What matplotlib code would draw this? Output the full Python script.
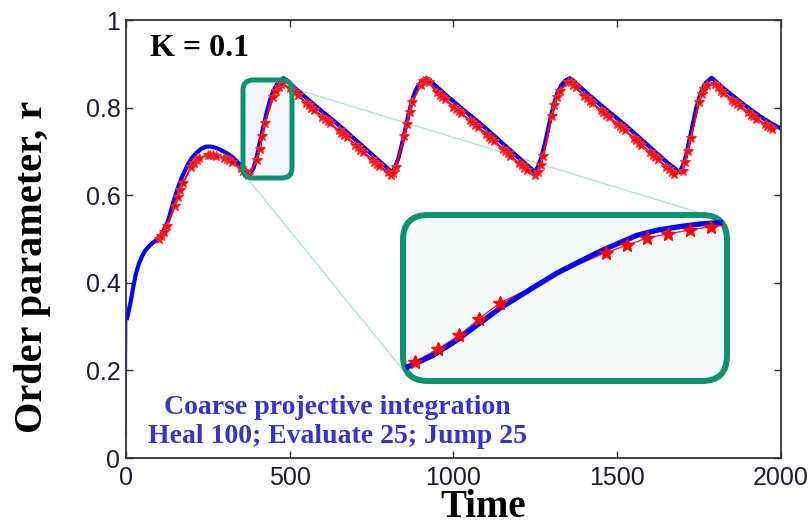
import matplotlib
matplotlib.use('Agg')
import matplotlib.pyplot as plt
from matplotlib.patches import FancyBboxPatch
from matplotlib.lines import Line2D

# ---------------- data ----------------
# initial thin vertical jump at t = 0
start_t = [0, 2]
start_r = [0.05, 0.315]

# blue: full microscopic simulation
blue_t = [2, 8, 15, 22, 30, 40, 50, 60, 75, 90, 100, 110, 120, 130, 140, 150, 160, 170, 180, 190,
          200, 215, 230, 245, 260, 275, 290, 305, 320, 335, 350, 365, 380, 390, 400, 410, 420, 430,
          440, 450, 460, 470, 481,
          491, 511, 541, 571, 601, 631, 661, 691, 721, 751, 781, 801, 812,
          822, 832, 842, 852, 862, 872, 882, 892, 905, 918,
          928, 948, 978, 1008, 1038, 1068, 1098, 1128, 1158, 1188, 1218, 1238, 1248,
          1258, 1268, 1278, 1288, 1298, 1308, 1318, 1330, 1342, 1355,
          1365, 1385, 1415, 1445, 1475, 1505, 1535, 1565, 1595, 1625, 1655, 1678, 1690,
          1700, 1710, 1720, 1730, 1740, 1750, 1760, 1770, 1788,
          1798, 1818, 1848, 1878, 1908, 1938, 1968, 2000]
blue_r = [0.315, 0.335, 0.360, 0.390, 0.420, 0.445, 0.462, 0.475, 0.487, 0.496, 0.503, 0.512, 0.527,
          0.545, 0.572, 0.598, 0.620, 0.640, 0.656, 0.672,
          0.684, 0.697, 0.706, 0.711, 0.711, 0.708, 0.703, 0.697, 0.690, 0.680, 0.668, 0.657, 0.650,
          0.663, 0.690, 0.725, 0.758, 0.790, 0.818, 0.838, 0.852, 0.861, 0.867,
          0.862, 0.848, 0.828, 0.809, 0.790, 0.772, 0.753, 0.733, 0.713, 0.693, 0.673, 0.660, 0.652,
          0.665, 0.685, 0.715, 0.748, 0.782, 0.812, 0.835, 0.850, 0.862, 0.867,
          0.862, 0.848, 0.828, 0.809, 0.790, 0.772, 0.753, 0.733, 0.713, 0.693, 0.673, 0.660, 0.652,
          0.665, 0.685, 0.715, 0.748, 0.782, 0.812, 0.835, 0.852, 0.862, 0.867,
          0.862, 0.848, 0.828, 0.809, 0.790, 0.772, 0.753, 0.733, 0.713, 0.693, 0.673, 0.660, 0.652,
          0.667, 0.690, 0.725, 0.760, 0.795, 0.822, 0.843, 0.856, 0.868,
          0.862, 0.848, 0.830, 0.812, 0.795, 0.779, 0.765, 0.752]

# red: coarse projective integration (evaluate windows)
red_t = [100, 108, 116, 124,
         150, 158, 166, 174,
         200, 208, 216, 224,
         250, 258, 266, 274,
         300, 308, 316, 324,
         350, 358, 366, 374,
         400, 408, 416, 424,
         450, 458, 466, 474,
         500, 508, 516, 524,
         550, 558, 566, 574,
         600, 608, 616, 624,
         650, 658, 666, 674,
         700, 708, 716, 724,
         750, 758, 766, 774,
         800, 808, 816, 824,
         850, 858, 866, 874,
         900, 908, 916, 924,
         950, 958, 966, 974,
         1000, 1008, 1016, 1024,
         1050, 1058, 1066, 1074,
         1100, 1108, 1116, 1124,
         1150, 1158, 1166, 1174,
         1200, 1208, 1216, 1224,
         1250, 1258, 1266, 1274,
         1300, 1308, 1316, 1324,
         1350, 1358, 1366, 1374,
         1400, 1408, 1416, 1424,
         1450, 1458, 1466, 1474,
         1500, 1508, 1516, 1524,
         1550, 1558, 1566, 1574,
         1600, 1608, 1616, 1624,
         1650, 1658, 1666, 1674,
         1700, 1708, 1716, 1724,
         1750, 1758, 1766, 1774,
         1800, 1808, 1816, 1824,
         1850, 1858, 1866, 1874,
         1900, 1908, 1916, 1924,
         1950, 1958, 1966, 1974]
red_r = [0.500, 0.507, 0.517, 0.530,
         0.575, 0.595, 0.612, 0.628,
         0.665, 0.674, 0.681, 0.686,
         0.691, 0.692, 0.691, 0.689,
         0.686, 0.683, 0.680, 0.676,
         0.662, 0.656, 0.650, 0.646,
         0.680, 0.705, 0.735, 0.765,
         0.825, 0.838, 0.848, 0.855,
         0.845, 0.840, 0.835, 0.829,
         0.810, 0.805, 0.800, 0.795,
         0.779, 0.774, 0.769, 0.764,
         0.748, 0.743, 0.738, 0.732,
         0.715, 0.710, 0.704, 0.699,
         0.682, 0.676, 0.671, 0.666,
         0.652, 0.646, 0.650, 0.664,
         0.735, 0.762, 0.790, 0.813,
         0.852, 0.860, 0.862, 0.858,
         0.835, 0.829, 0.824, 0.819,
         0.802, 0.797, 0.792, 0.787,
         0.771, 0.766, 0.761, 0.756,
         0.740, 0.734, 0.729, 0.724,
         0.706, 0.701, 0.696, 0.690,
         0.673, 0.668, 0.662, 0.657,
         0.645, 0.652, 0.668, 0.690,
         0.780, 0.805, 0.825, 0.838,
         0.858, 0.858, 0.852, 0.846,
         0.826, 0.821, 0.815, 0.810,
         0.794, 0.789, 0.784, 0.779,
         0.763, 0.758, 0.753, 0.748,
         0.731, 0.726, 0.720, 0.715,
         0.698, 0.692, 0.687, 0.682,
         0.664, 0.659, 0.654, 0.649,
         0.656, 0.676, 0.702, 0.730,
         0.812, 0.830, 0.843, 0.852,
         0.853, 0.846, 0.839, 0.834,
         0.818, 0.813, 0.808, 0.803,
         0.789, 0.784, 0.780, 0.775,
         0.763, 0.759, 0.755, 0.751]

# zoomed inset (t ~ 370 .. 485)
inset_blue_t = [371.1, 380.0, 388.7, 396.0, 404.1, 416.0, 424.6, 433.0, 441.2, 453.4, 461.0, 468.8, 476.0, 483.2]
inset_blue_r = [0.647, 0.664, 0.687, 0.710, 0.735, 0.766, 0.788, 0.806, 0.823, 0.845, 0.853, 0.858, 0.862, 0.864]
inset_red_t = [373.6, 381.9, 389.4, 396.6, 404.1, 414.9, 431.7, 442.2, 449.8, 457.0, 464.5, 472.4, 480.0, 485.0]
inset_red_r = [0.6545, 0.674, 0.694, 0.719, 0.743, 0.765, 0.800, 0.819, 0.830, 0.841, 0.847, 0.853, 0.858, 0.860]
inset_red_marked = [0, 1, 2, 3, 4, 7, 8, 9, 10, 11, 12]

xticks = [0, 500, 1000, 1500, 2000]
yticks = [0, 0.2, 0.4, 0.6, 0.8, 1]
ytick_labels = ['0', '0.2', '0.4', '0.6', '0.8', '1']

# ---------------- figure ----------------
W, H = 812, 526
fig = plt.figure(figsize=(W / 100, H / 100), dpi=100)
ax = fig.add_axes([126 / W, (H - 458) / H, 655 / W, 438 / H])

serif = ['Liberation Serif', 'DejaVu Serif']
sans = ['Liberation Sans', 'DejaVu Sans']
green = '#0d9270'

# small zoom box fill (behind curves)
small_fill = FancyBboxPatch((2.43, 5.26 - 1.78), 0.49, 0.98,
                            boxstyle='round,pad=0,rounding_size=0.10',
                            transform=fig.dpi_scale_trans, facecolor='#f5f5fc',
                            edgecolor='none', zorder=0.5, clip_on=False)
ax.add_patch(small_fill)

# connector lines
for (x0, y0), (x1, y1) in [((2.92, 5.26 - 0.88), (6.97, 5.26 - 2.12)),
                           ((2.47, 5.26 - 1.78), (4.03, 5.26 - 3.70))]:
    ax.add_line(Line2D([x0, x1], [y0, y1], transform=fig.dpi_scale_trans,
                       color='#a6e3d2', lw=0.9, zorder=1, clip_on=False))

ax.plot(start_t, start_r, color='#0000ff', lw=1.0, zorder=2)
ax.plot(blue_t, blue_r, color='#0000ff', lw=3.0, zorder=2, solid_capstyle='butt')
ax.plot(red_t, red_r, color='#ff0000', lw=1.5, marker='*', ms=7.5, mew=0.8,
        mfc='#ff0000', mec='#ff2a2a', zorder=3)

# small zoom box border
small_edge = FancyBboxPatch((2.43, 5.26 - 1.78), 0.49, 0.98,
                            boxstyle='round,pad=0,rounding_size=0.10',
                            transform=fig.dpi_scale_trans, facecolor='none',
                            edgecolor=green, lw=3.6, zorder=4, clip_on=False)
ax.add_patch(small_edge)

ax.set_xlim(0, 2000)
ax.set_ylim(0, 1)
ax.set_xticks(xticks)
ax.set_xticklabels([str(v) for v in xticks])
ax.set_yticks(yticks)
ax.set_yticklabels(ytick_labels)
ax.tick_params(direction='in', length=5, width=1.0, top=True, right=True,
               labelsize=18, labelcolor='#1c1c30', color='#333333')
ax.tick_params(axis='x', pad=6)
ax.tick_params(axis='y', pad=4)
for lab in ax.get_xticklabels() + ax.get_yticklabels():
    lab.set_family(sans)
for s in ax.spines.values():
    s.set_color('#333333')
    s.set_linewidth(1.3)

ax.text(0.037, 0.935, 'K = 0.1', transform=ax.transAxes, family=serif,
        fontweight='bold', fontsize=23, color='black', ha='left', va='center')
ax.text(0.323, 0.082, 'Coarse projective integration\nHeal 100; Evaluate 25; Jump 25',
        transform=ax.transAxes, family=serif, fontweight='bold', fontsize=20,
        color='#3535c8', ha='center', va='center', linespacing=1.25, zorder=5)

fig.text(33 / W, 1 - 267 / H, 'Order parameter, r', rotation=90, family=serif,
         fontweight='bold', fontsize=29, ha='center', va='center')
fig.text(483 / W, 9 / H, 'Time', family=serif, fontweight='bold',
         fontsize=28, ha='center', va='baseline')

# inset box
box = FancyBboxPatch((4.03, 5.26 - 3.81), 3.24, 1.66,
                     boxstyle='round,pad=0,rounding_size=0.25',
                     transform=fig.dpi_scale_trans, facecolor='#f3fcf9',
                     edgecolor=green, lw=4.3, zorder=5)
fig.patches.append(box)

iax = fig.add_axes([405 / W, (H - 368) / H, 320 / W, 146 / H])
iax.set_zorder(6)
iax.patch.set_visible(False)
iax.axis('off')
iax.set_xlim(370, 485)
iax.set_ylim(0.645, 0.865)
iax.plot(inset_red_t, inset_red_r, color='#ff2020', lw=1.0, zorder=2, clip_on=False)
iax.plot(inset_blue_t, inset_blue_r, color='#0000ff', lw=3.8, zorder=3, clip_on=False)
iax.plot([inset_red_t[i] for i in inset_red_marked], [inset_red_r[i] for i in inset_red_marked],
         ls='none', marker='*', ms=10, mfc='#ff0000', mec='#ff0000', mew=1.0, zorder=4, clip_on=False)

fig.savefig('out.png', dpi=100)
